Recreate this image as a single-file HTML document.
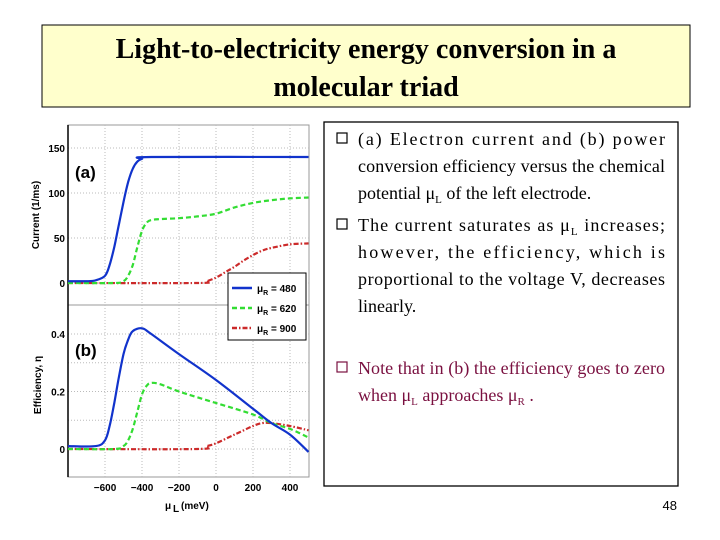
<!DOCTYPE html>
<html><head><meta charset="utf-8"><style>
body{margin:0;background:#fff;}
svg{display:block;}
.t{font-family:"Liberation Serif",serif;font-size:18px;fill:#000;}
.m{fill:#7a1040;}
.ax{font-family:"Liberation Sans",sans-serif;font-weight:bold;font-size:10px;fill:#000;}
</style></head><body>
<svg width="720" height="540" xmlns="http://www.w3.org/2000/svg">
<rect x="42" y="25" width="648" height="82" fill="#ffffcc" stroke="#000" stroke-width="1"/>
<text x="366" y="58" text-anchor="middle" font-family="Liberation Serif,serif" font-weight="bold" font-size="28">Light-to-electricity energy conversion in a</text>
<text x="366" y="96" text-anchor="middle" font-family="Liberation Serif,serif" font-weight="bold" font-size="28">molecular triad</text>

<rect x="324" y="122" width="354" height="364" fill="none" stroke="#000" stroke-width="1.3"/>
<g>
<rect x="337" y="133" width="10" height="10" fill="none" stroke="#000" stroke-width="1.2"/>
<text class="t" x="358" y="145" textLength="307" lengthAdjust="spacing">(a) Electron current and (b) power</text>
<text class="t" x="358" y="172" textLength="307" lengthAdjust="spacing">conversion efficiency versus the chemical</text>
<text class="t" x="358" y="199">potential μ<tspan font-size="11" dy="4">L</tspan><tspan dy="-4"> of the left electrode.</tspan></text>
</g>
<g>
<rect x="337" y="219" width="10" height="10" fill="none" stroke="#000" stroke-width="1.2"/>
<text class="t" x="358" y="231" textLength="307" lengthAdjust="spacing">The current saturates as μ<tspan font-size="11" dy="4">L</tspan><tspan dy="-4"> increases;</tspan></text>
<text class="t" x="358" y="258" textLength="307" lengthAdjust="spacing">however, the efficiency, which is</text>
<text class="t" x="358" y="285" textLength="307" lengthAdjust="spacing">proportional to the voltage V, decreases</text>
<text class="t" x="358" y="312">linearly.</text>
</g>
<g>
<rect x="337" y="362" width="10" height="10" fill="none" stroke="#7a1040" stroke-width="1.2"/>
<text class="t m" x="358" y="374" textLength="307" lengthAdjust="spacing">Note that in (b) the efficiency goes to zero</text>
<text class="t m" x="358" y="401">when μ<tspan font-size="11" dy="4">L</tspan><tspan dy="-4">  approaches μ</tspan><tspan font-size="11" dy="4">R</tspan><tspan dy="-4"> .</tspan></text>
</g>
<text x="677" y="510" text-anchor="end" font-family="Liberation Sans,sans-serif" font-size="13">48</text>

<g id="chart"></g>
</svg>
<script>
const xTicks=[-600,-400,-200,0,200,400];
const curTicks=[0,50,100,150];
const effTicks=[0,0.2,0.4];
const xBlueI=[-800,-700,-650,-600,-575,-550,-525,-500,-475,-450,-425,-400,-350,500];
const blueI=[2,2,3,8,20,40,65,90,112,127,135,138,140,140];
const xGreenI=[-800,-550,-500,-475,-450,-425,-400,-375,-350,-300,-200,-100,0,100,200,300,400,500];
const greenI=[0,0,2,8,20,40,58,67,70,71,72,74,77,84,89,92,94,95];
const xRedI=[-800,-100,-50,0,50,100,150,200,250,300,400,500];
const redI=[0,0,2,6,12,18,25,31,36,39,43,44];
const xBlueE=[-800,-650,-600,-575,-550,-525,-500,-475,-450,-400,-350,-200,0,200,300,400,500];
const blueE=[0.01,0.01,0.03,0.08,0.16,0.25,0.33,0.38,0.41,0.42,0.40,0.33,0.24,0.14,0.09,0.05,-0.01];
const xGreenE=[-800,-550,-500,-475,-450,-425,-400,-375,-350,-300,-200,0,200,300,400,500];
const greenE=[0,0,0.01,0.03,0.07,0.13,0.19,0.22,0.23,0.225,0.20,0.16,0.12,0.09,0.07,0.04];
const xRedE=[-800,-100,-50,0,100,200,250,300,400,500];
const redE=[0,0,0.01,0.02,0.05,0.08,0.09,0.09,0.08,0.065];

const NS="http://www.w3.org/2000/svg";
const g=document.getElementById('chart');
const X=v=>68+(v+800)*(240.5/1300);
const YI=v=>283-v*0.9;
const YE=v=>449-v*287.5;
function mk(t,a,p){const e=document.createElementNS(NS,t);for(const k in a)e.setAttribute(k,a[k]);(p||g).appendChild(e);return e;}
mk('rect',{x:68,y:125,width:241,height:180,fill:'#fff',stroke:'#999','stroke-width':1});
mk('rect',{x:68,y:305,width:241,height:172,fill:'#fff',stroke:'#999','stroke-width':1});
xTicks.forEach(v=>{
 const a=mk('line',{x1:X(v),x2:X(v),y1:125,y2:477,stroke:'#bbb','stroke-dasharray':'1,2'});
 
 
 const t=mk('text',{x:X(v),y:491,'text-anchor':'middle',class:'ax'});t.textContent=(v<0?'\u2212'+(-v):v);
 
 
});
curTicks.forEach(v=>{
 const a=mk('line',{x1:68,x2:309,y1:YI(v),y2:YI(v),stroke:'#bbb','stroke-dasharray':'1,2'});
 
 
 const t=mk('text',{x:65,y:YI(v)+4,'text-anchor':'end',class:'ax'});t.textContent=v;
 
 
});
effTicks.forEach(v=>{
 const a=mk('line',{x1:68,x2:309,y1:YE(v),y2:YE(v),stroke:'#bbb','stroke-dasharray':'1,2'});
 
 
 const t=mk('text',{x:65,y:YE(v)+4,'text-anchor':'end',class:'ax'});t.textContent=v;
 
 
});
[0.1,0.3].forEach(v=>mk('line',{x1:68,x2:309,y1:YE(v),y2:YE(v),stroke:'#bbb','stroke-dasharray':'1,2'}));
mk('line',{x1:68,x2:68,y1:125,y2:477,stroke:'#000','stroke-width':1.5});
function series(xs,ys,Y,col,dash,name){
 const P=xs.map((x,i)=>[X(x),Y(ys[i])]);
 let d='M'+P[0][0].toFixed(1)+','+P[0][1].toFixed(1);
 for(let i=0;i<P.length-1;i++){
  const p0=P[Math.max(0,i-1)],p1=P[i],p2=P[i+1],p3=P[Math.min(P.length-1,i+2)];
  const c1=[p1[0]+(p2[0]-p0[0])/6,p1[1]+(p2[1]-p0[1])/6];
  const c2=[p2[0]-(p3[0]-p1[0])/6,p2[1]-(p3[1]-p1[1])/6];
  d+='C'+c1[0].toFixed(1)+','+c1[1].toFixed(1)+' '+c2[0].toFixed(1)+','+c2[1].toFixed(1)+' '+p2[0].toFixed(1)+','+p2[1].toFixed(1);
 }
 const p=mk('path',{d:d,fill:'none',stroke:col,'stroke-width':2.2,'stroke-dasharray':dash,'stroke-linejoin':'round'});
 
 
}
series(xRedI,redI,YI,'#cc2a2a','5,2,1.5,2','current-mu-r-900');
series(xGreenI,greenI,YI,'#33dd33','5,3','current-mu-r-620');
series(xBlueI,blueI,YI,'#1133cc','','current-mu-r-480');
series(xRedE,redE,YE,'#cc2a2a','5,2,1.5,2','efficiency-mu-r-900');
series(xGreenE,greenE,YE,'#33dd33','5,3','efficiency-mu-r-620');
series(xBlueE,blueE,YE,'#1133cc','','efficiency-mu-r-480');
function txt(x,y,s,attrs,name){const t=mk('text',Object.assign({x:x,y:y},attrs||{}));t.textContent=s;
 
 return t;}
txt(75,178,'(a)',{'font-family':'Liberation Sans,sans-serif','font-size':17,'font-weight':'bold'},'panel-a-label');
txt(75,356,'(b)',{'font-family':'Liberation Sans,sans-serif','font-size':17,'font-weight':'bold'},'panel-b-label');
txt(0,0,'Current (1/ms)',{class:'ax','font-size':11,'text-anchor':'middle',transform:'translate(39,215) rotate(-90)'},'y-axis-title-current');
txt(0,0,'Efficiency, η',{class:'ax','font-size':11,'text-anchor':'middle',transform:'translate(41,385) rotate(-90)'},'y-axis-title-efficiency');
txt(165,509,'μ',{class:'ax','font-size':12},'x-axis-title');
txt(173,512,'L',{class:'ax','font-size':8},'x-axis-title-sub');
txt(181,509,'(meV)',{class:'ax','font-size':11},'x-axis-title-unit');
const lg=mk('g',{});


mk('rect',{x:228,y:273,width:78,height:67,fill:'#fff',stroke:'#000','stroke-width':1},lg);
[['#1133cc','','480',288],['#33dd33','5,3','620',308],['#cc2a2a','5,2,1.5,2','900',328]].forEach(e=>{
 mk('line',{x1:232,x2:252,y1:e[3],y2:e[3],stroke:e[0],'stroke-width':2.5,'stroke-dasharray':e[1]},lg);
 const t=mk('text',{x:257,y:e[3]+4,class:'ax'},lg);
 t.innerHTML='μ<tspan font-size="7" dy="3">R</tspan><tspan dy="-3"> = '+e[2]+'</tspan>';
 
 
});
</script>
</body></html>
